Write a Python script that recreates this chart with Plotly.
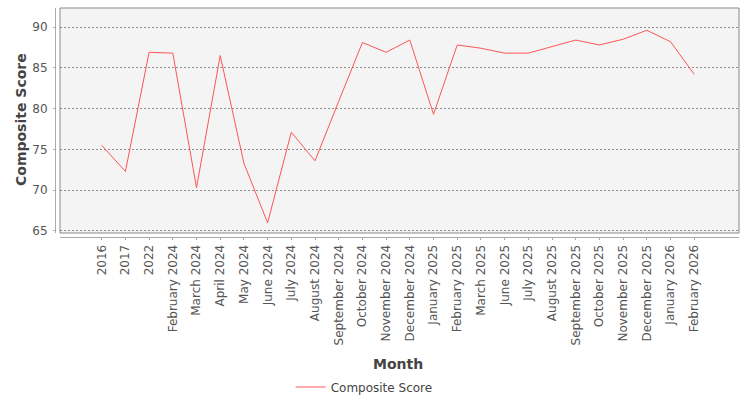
import plotly.graph_objects as go

months = ["2016", "2017", "2022", "February 2024", "March 2024", "April 2024", "May 2024",
          "June 2024", "July 2024", "August 2024", "September 2024", "October 2024",
          "November 2024", "December 2024", "January 2025", "February 2025", "March 2025",
          "June 2025", "July 2025", "August 2025", "September 2025", "October 2025",
          "November 2025", "December 2025", "January 2026", "February 2026"]
scores = [75.5, 72.3, 86.9, 86.8, 70.3, 86.5, 73.3, 66.0, 77.1, 73.6, 80.9, 88.1,
          86.9, 88.4, 79.3, 87.8, 87.4, 86.8, 86.8, 87.6, 88.4, 87.8, 88.5, 89.6,
          88.2, 84.2]
y_ticks = [65, 70, 75, 80, 85, 90]

W, H = 750, 400
L, R, T, B = 55, 11, 8, 163
pw, ph = W - L - R, H - T - B
dx = 5 / pw
dy = 4 / ph

fig = go.Figure()
fig.add_trace(go.Scatter(x=months, y=scores, mode="lines", name="Composite Score",
                         line=dict(color="#FF5555", width=1)))

font_fam = "DejaVu Sans"
tick_col = "#555555"
fig.update_layout(
    width=W, height=H,
    margin=dict(l=L, r=R, t=T, b=B, autoexpand=False),
    paper_bgcolor="white",
    plot_bgcolor="#F4F4F4",
    font=dict(family=font_fam, size=12, color=tick_col),
    showlegend=True,
    legend=dict(orientation="h", x=0.452, xanchor="center", y=-0.655, yanchor="middle",
                font=dict(size=12, color="#444444"), bgcolor="rgba(0,0,0,0)"),
    xaxis=dict(domain=[dx, 1], anchor="free", position=0, type="category",
               range=[-1.76, 26.89], showgrid=False, zeroline=False, automargin=False,
               showline=True, linecolor="#AAAAAA", linewidth=1,
               ticks="outside", ticklen=2, tickcolor="#AAAAAA", tickangle=-90,
               tickfont=dict(size=12, color=tick_col)),
    yaxis=dict(domain=[dy, 1], anchor="free", position=0, range=[64.75, 92.33],
               tickvals=y_ticks, showgrid=True, gridcolor="#8C8C8C", griddash="2px,2px",
               gridwidth=1, zeroline=False, showline=True, linecolor="#AAAAAA",
               linewidth=1, ticks="outside", ticklen=2, tickcolor="#AAAAAA", automargin=False,
               tickfont=dict(size=12, color=tick_col), ticklabelstandoff=3),
    shapes=[dict(type="rect", xref="paper", yref="paper", x0=dx, x1=1, y0=dy, y1=1,
                 line=dict(color="#888888", width=1), fillcolor="rgba(0,0,0,0)", layer="above")],
    annotations=[
        dict(text="<b>Composite Score</b>", xref="paper", yref="paper", x=(21 - L) / pw,
             y=(H - B - 120) / ph, textangle=-90, showarrow=False,
             xanchor="center", yanchor="middle",
             font=dict(size=14, color="#444444", family=font_fam)),
        dict(text="<b>Month</b>", xref="paper", yref="paper", x=(398 - L) / pw,
             y=(H - B - 364) / ph, showarrow=False, xanchor="center", yanchor="middle",
             font=dict(size=14, color="#444444", family=font_fam)),
    ],
)

fig.write_html("out.html")
